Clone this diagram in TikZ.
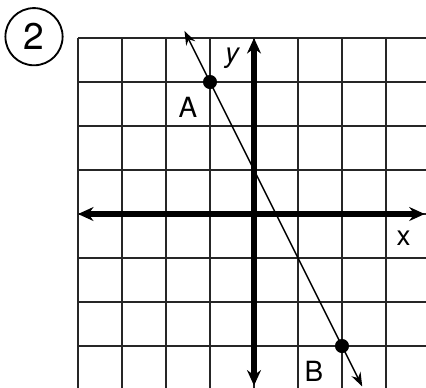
\documentclass[tikz,border=0pt]{standalone}
\usepackage{fontspec}
\setmainfont{TeX Gyre Heros}
\usepackage{tikz}
\usetikzlibrary{arrows.meta, positioning}

\begin{document}
\begin{tikzpicture}[
  gridline/.style={line width=1.4pt, black!85},
  axis/.style={line width=3.6pt, {Stealth[length=10pt, width=9pt]}-{Stealth[length=10pt, width=9pt]}},
  graphline/.style={line width=1pt, {Stealth[length=9pt, width=6.5pt]}-{Stealth[length=9pt, width=6.5pt]}},
  dot/.style={circle, fill=black, inner sep=0pt, minimum size=0.32cm},
  lbl/.style={font=\fontsize{18}{20}\selectfont}
]
  \useasboundingbox (-5.773,-3.932) rectangle (3.909,4.864);
  \clip (-5.773,-3.932) rectangle (3.909,4.864);

  % Problem number
  \node[draw, circle, line width=1.2pt, minimum size=1.3cm, inner sep=0pt,
    font=\fontsize{24}{26}\selectfont] (num) at (-5.0,4.03) {2};

  % Grid
  \draw[gridline] (-4,-4) grid (4,4);

  % Axes
  \coordinate (xl) at (-4,0);
  \coordinate (xr) at (3.88,0);
  \coordinate (yt) at (0,4);
  \coordinate (yb) at (0,-3.9);
  \draw[axis] (xl) -- (xr);
  \draw[axis] (yb) -- (yt);
  \node[lbl, font=\fontsize{18}{20}\selectfont\itshape] (ylab) at (-0.5,3.55) {y};
  \node[lbl] (xlab) at (3.4,-0.55) {x};

  % Line through A and B
  \node[dot] (A) at (-1,3) {};
  \node[dot] (B) at (2,-3) {};
  \coordinate (ltop) at (-1.58,4.16);
  \coordinate (lbot) at (2.46,-3.92);
  \draw[graphline] (ltop) -- (lbot);
  \node[lbl] (Alab) at (-1.5,2.43) {A};
  \node[lbl] (Blab) at (1.36,-3.57) {B};

\end{tikzpicture}
\end{document}
